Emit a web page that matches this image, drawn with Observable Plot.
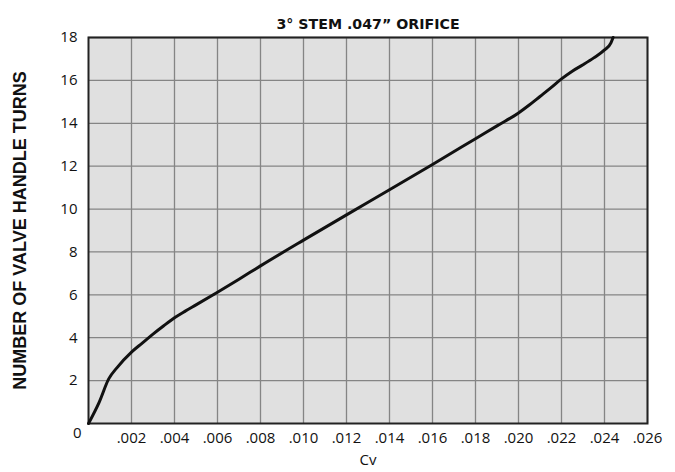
<!DOCTYPE html>
<html>
<head>
<meta charset="utf-8">
<script src="https://cdn.jsdelivr.net/npm/d3@7"></script>
<script src="https://cdn.jsdelivr.net/npm/@observablehq/plot@0.6"></script>
<style>
  html, body { margin: 0; padding: 0; background: white; }
</style>
</head>
<body>
<div id="chart"></div>
<script>
const cv = [0, 0.0005, 0.00094, 0.00134, 0.002, 0.0025, 0.003, 0.0035, 0.004, 0.0045, 0.005, 0.006, 0.007, 0.008, 0.010, 0.012, 0.014, 0.016, 0.018, 0.019, 0.020, 0.0205, 0.021, 0.0215, 0.022, 0.0225, 0.023, 0.0235, 0.024, 0.0243, 0.0244];
const turns = [0, 1.0, 2.08, 2.62, 3.33, 3.75, 4.17, 4.56, 4.93, 5.24, 5.53, 6.12, 6.73, 7.35, 8.55, 9.73, 10.9, 12.08, 13.28, 13.88, 14.48, 14.85, 15.25, 15.65, 16.07, 16.43, 16.73, 17.05, 17.42, 17.75, 18];
const xTicks = [0.002, 0.004, 0.006, 0.008, 0.010, 0.012, 0.014, 0.016, 0.018, 0.020, 0.022, 0.024, 0.026];
const yTicks = [2, 4, 6, 8, 10, 12, 14, 16, 18];
const originLabel = ["0"];
const title = ["3° STEM .047” ORIFICE"];
const xLabel = ["Cv"];
const yLabel = ["NUMBER OF VALVE HANDLE TURNS"];

const data = cv.map((c, i) => ({cv: c, turns: turns[i]}));

const chart = Plot.plot({
  width: 675,
  height: 472,
  marginLeft: 88,
  marginRight: 28,
  marginTop: 37,
  marginBottom: 49,
  style: {fontFamily: "'Open Sans', sans-serif", fontSize: "15px", background: "white", color: "#111"},
  x: {domain: [0, 0.026]},
  y: {domain: [0, 18]},
  marks: [
    Plot.frame({fill: "#e0e0e0"}),
    Plot.gridX(xTicks, {stroke: "#858585", strokeOpacity: 1, strokeWidth: 1.3}),
    Plot.gridY(yTicks, {stroke: "#858585", strokeOpacity: 1, strokeWidth: 1.3}),
    Plot.frame({stroke: "#222", strokeWidth: 2}),
    Plot.line(data, {x: "cv", y: "turns", stroke: "#111", strokeWidth: 3, curve: "monotone-x"}),
    Plot.axisX(xTicks, {tickSize: 0, tickPadding: 9, tickFormat: d => d3.format(".3f")(d).slice(1), label: null, fontSize: 15}),
    Plot.axisY(yTicks, {tickSize: 0, tickPadding: 11, label: null, fontSize: 15}),
    Plot.text(originLabel, {text: d => d, frameAnchor: "bottom-left", dx: -15.5, dy: 14.5, fontSize: 15}),
    Plot.text(title, {text: d => d, frameAnchor: "top", textAnchor: "middle", dy: -19, fontWeight: "bold", fontSize: 14.2, fontFamily: "'DejaVu Sans', sans-serif"}),
    Plot.text(xLabel, {text: d => d, frameAnchor: "bottom", textAnchor: "middle", dy: 41, fontSize: 15}),
    Plot.text(yLabel, {text: d => d, frameAnchor: "left", textAnchor: "middle", dx: -68, rotate: -90, fontWeight: "bold", fontSize: 18, fontFamily: "'Liberation Sans', Arial, sans-serif"})
  ]
});
document.getElementById("chart").appendChild(chart);
</script>
</body>
</html>
